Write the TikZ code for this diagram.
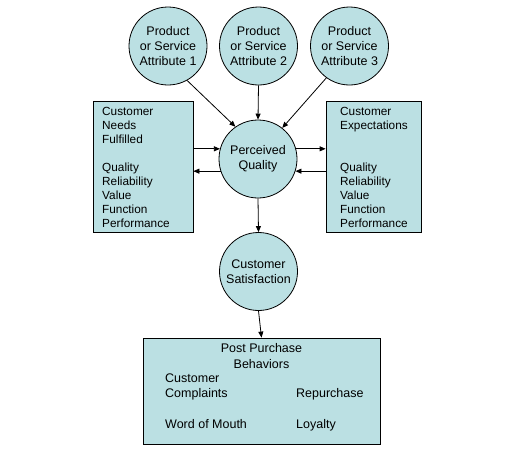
\documentclass[tikz,border=0pt]{standalone}
\usepackage{fontspec}
\setmainfont{Liberation Sans}
\usetikzlibrary{arrows.meta}
\definecolor{fillc}{RGB}{187,224,227}
\begin{document}
\begin{tikzpicture}[x=1pt,y=-1pt,
  every node/.style={font=\fontsize{11.8}{14}\selectfont},
  circ/.style={circle,draw=black,fill=fillc,minimum size=78pt,inner sep=0pt,align=center,line width=0.8pt,font=\fontsize{12.5}{15}\selectfont},
  boxc/.style={rectangle,draw=black,fill=fillc,inner sep=0pt,line width=0.8pt},
  txt/.style={anchor=north west,align=left,inner sep=0pt},
  bigtxt/.style={txt,font=\fontsize{12.5}{15.2}\selectfont},
  conn/.style={draw=black,line width=0.8pt},
  arr/.style={conn,-{Triangle[length=6pt,width=5pt]}}]
\useasboundingbox (0,0) rectangle (522,453);
% circles
\node[circ] (a1) at (168,46) {Product\\or Service\\Attribute 1};
\node[circ] (a2) at (258.5,46) {Product\\or Service\\Attribute 2};
\node[circ] (a3) at (349.5,46) {Product\\or Service\\Attribute 3};
\node[circ] (pq) at (258,159) {Perceived\\Quality};
\node[circ] (cs) at (258.5,271.5) {Customer\\Satisfaction};
% boxes
\node[boxc,minimum width=100pt,minimum height=131pt] (lb) at (143,166.5) {};
\node[txt] (lbt) at (102,107.5) {Customer\\Needs\\Fulfilled\\[14pt]Quality\\Reliability\\Value\\Function\\Performance};
\node[boxc,minimum width=95pt,minimum height=131pt] (rb) at (373.5,166.5) {};
\node[txt] (rbt) at (340,107.5) {Customer\\Expectations\\[28pt]Quality\\Reliability\\Value\\Function\\Performance};
\node[boxc,minimum width=237pt,minimum height=106pt] (bb) at (261.5,391) {};
\node[align=center,inner sep=0pt,font=\fontsize{12.5}{16.5}\selectfont] (bbt) at (bb.north |- 0,356) {Post Purchase\\Behaviors};
\node[bigtxt] (bbl) at (165,371.5) {\begin{tabular}{@{}p{131pt}@{}l@{}}Customer & \\ Complaints & Repurchase\\[16pt] Word of Mouth & Loyalty\end{tabular}};
% connectors
\draw[arr] (a1.-61) -- (pq.125);
\draw[arr] (a2.south) -- (pq.north);
\draw[arr] (a3.-126) -- (pq.52);
\draw[arr] (lb.east |- pq.165) -- (pq.165);
\draw[arr] (pq.198) -- (pq.198 -| lb.east);
\draw[arr] (pq.15) -- (pq.15 -| rb.west);
\draw[arr] (rb.west |- pq.-18) -- (pq.-18);
\draw[arr] (pq.south) -- (cs.north);
\draw[arr] (cs.south) -- (bb.north);
\end{tikzpicture}
\end{document}
